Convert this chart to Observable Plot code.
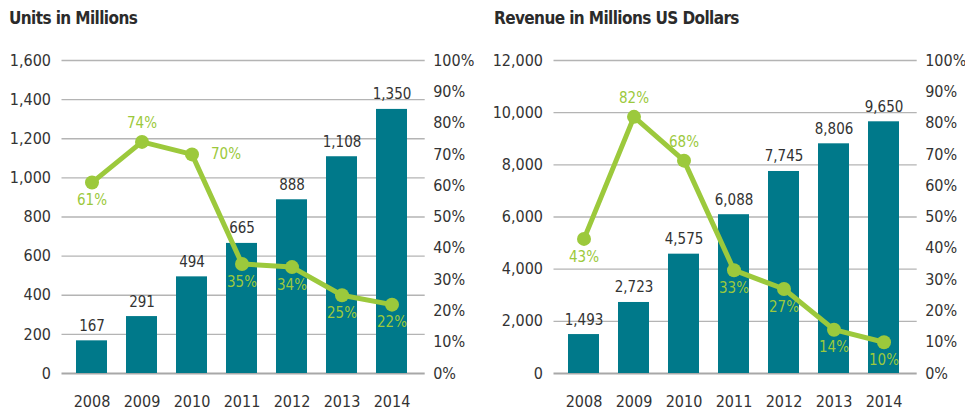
<!DOCTYPE html>
<html>
<head>
<meta charset="utf-8">
<script src="https://cdn.jsdelivr.net/npm/d3@7"></script>
<script src="https://cdn.jsdelivr.net/npm/@observablehq/plot@0.6"></script>
<style>
  html, body { margin: 0; padding: 0; background: #fff; }
  body { width: 965px; height: 413px; overflow: hidden; font-family: "DejaVu Sans Condensed", "Liberation Sans Narrow", sans-serif; }
  #wrap { display: flex; flex-direction: row; }
  .panel { position: relative; }
  .title { height: 34px; box-sizing: border-box; padding-top: 8px; font-weight: bold; font-size: 17px; letter-spacing: -0.6px; color: #2b2b2b; line-height: 20px; }
  .panel svg { display: block; }
</style>
</head>
<body>
<div id="wrap">
  <div class="panel" id="left" style="width:480px"><div class="title" style="padding-left:9px">Units in Millions</div></div>
  <div class="panel" id="right" style="width:485px"><div class="title" style="padding-left:14px">Revenue in Millions US Dollars</div></div>
</div>
<script>
const years = ["2008", "2009", "2010", "2011", "2012", "2013", "2014"];
const units = [167, 291, 494, 665, 888, 1108, 1350];
const unitsPct = [61, 74, 70, 35, 34, 25, 22];
const revenue = [1493, 2723, 4575, 6088, 7745, 8806, 9650];
const revenuePct = [43, 82, 68, 33, 27, 14, 10];
const unitsTicks = [0, 200, 400, 600, 800, 1000, 1200, 1400, 1600];
const revenueTicks = [0, 2000, 4000, 6000, 8000, 10000, 12000];
const pctTicks = [0, 10, 20, 30, 40, 50, 60, 70, 80, 90, 100];
const unitsPctPlacement = ["below", "above", "right", "below", "below", "below", "below"];
const revenuePctPlacement = ["below", "above", "above", "below", "below", "below", "below"];

const TEAL = "#00798A";
const GREEN = "#9CC93C";
const TEXT = "#333333";
const FONT = '"DejaVu Sans Condensed", "Liberation Sans Narrow", sans-serif';

function chart({values, pcts, ticks, placement, width, marginLeft, marginRight}) {
  const ymax = ticks[ticks.length - 1];
  const rows = years.map((y, i) => ({year: y, value: values[i], pct: pcts[i], place: placement[i]}));
  const fmt = d3.format(",");
  const pctY = d => d.pct / 100 * ymax;
  const subset = p => rows.filter(d => d.place === p);
  return Plot.plot({
    width,
    height: 379,
    marginTop: 26,
    marginBottom: 40,
    marginLeft,
    marginRight,
    style: {fontFamily: FONT, fontSize: "16px", color: TEXT, background: "transparent"},
    x: {domain: years, paddingInner: 0.38, paddingOuter: 0.25, label: null},
    y: {domain: [0, ymax], label: null},
    marks: [
      Plot.ruleY(ticks.filter(t => t > 0), {stroke: "#b4b4b4", strokeWidth: 1.3, insetLeft: -1, insetRight: -5}),
      Plot.ruleY([0], {stroke: "#a8a8a8", strokeWidth: 2.2, insetLeft: -1, insetRight: -5}),
      Plot.axisY(ticks, {anchor: "left", tickSize: 0, tickPadding: 12, tickFormat: fmt, fontSize: 16, fill: TEXT, label: null}),
      Plot.axisY(pctTicks.map(p => p / 100 * ymax), {anchor: "right", tickSize: 0, tickPadding: 13, tickFormat: v => Math.round(v / ymax * 100) + "%", fontSize: 16, fill: TEXT, textAnchor: "start", label: null}),
      Plot.axisX({tickSize: 0, tickPadding: 22, fontSize: 16, fill: TEXT, label: null}),
      Plot.barY(rows, {x: "year", y: "value", fill: TEAL}),
      Plot.text(rows, {x: "year", y: "value", text: d => fmt(d.value), lineAnchor: "bottom", dy: -10, fontSize: 15, fill: TEXT}),
      Plot.line(rows, {x: "year", y: pctY, stroke: GREEN, strokeWidth: 5, strokeLinejoin: "round"}),
      Plot.dot(rows, {x: "year", y: pctY, r: 7, fill: GREEN, stroke: "none"}),
      Plot.text(subset("below"), {x: "year", y: pctY, text: d => d.pct + "%", lineAnchor: "top", dy: 12, fontSize: 15, fill: GREEN}),
      Plot.text(subset("above"), {x: "year", y: pctY, text: d => d.pct + "%", lineAnchor: "bottom", dy: -14, fontSize: 15, fill: GREEN}),
      Plot.text(subset("right"), {x: "year", y: pctY, text: d => d.pct + "%", textAnchor: "start", dx: 19, fontSize: 15, fill: GREEN})
    ]
  });
}

document.getElementById("left").appendChild(chart({
  values: units, pcts: unitsPct, ticks: unitsTicks, placement: unitsPctPlacement,
  width: 480, marginLeft: 62.5, marginRight: 60.3
}));
document.getElementById("right").appendChild(chart({
  values: revenue, pcts: revenuePct, ticks: revenueTicks, placement: revenuePctPlacement,
  width: 485, marginLeft: 74.5, marginRight: 53.3
}));
</script>
</body>
</html>
